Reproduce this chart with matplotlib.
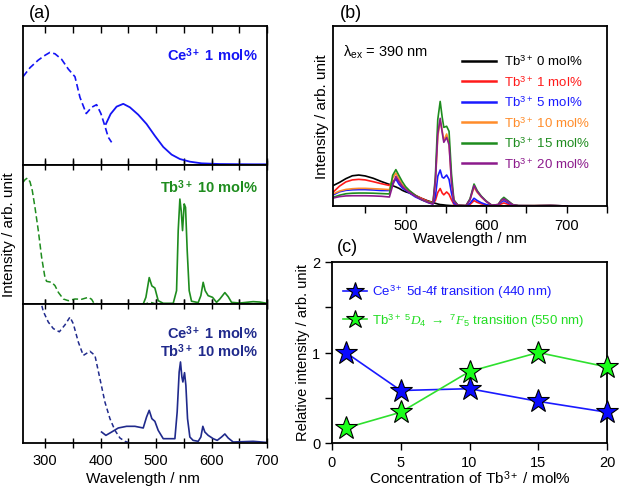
import matplotlib
matplotlib.use("Agg")
import matplotlib.pyplot as plt
from matplotlib.ticker import MultipleLocator

plt.rcParams['font.family'] = ['Liberation Sans', 'DejaVu Sans']
plt.rcParams['mathtext.fontset'] = 'custom'
plt.rcParams['mathtext.rm'] = 'Liberation Sans'
plt.rcParams['mathtext.sf'] = 'Liberation Sans'
plt.rcParams['mathtext.it'] = 'Liberation Serif:italic'
plt.rcParams['mathtext.bf'] = 'Liberation Sans:bold'

# ---------------- Panel (a) data ----------------
# top: Ce3+ 1 mol%
a1_exc_wl = [260, 272.6, 287.6, 300, 308.6, 317.7, 329.7, 341.7, 353.7, 362.7, 374, 383.7, 392.7, 400.5, 407.7, 413.7, 419.8]
a1_exc_I = [0.635, 0.70, 0.755, 0.79, 0.81, 0.80, 0.76, 0.69, 0.635, 0.487, 0.37, 0.415, 0.434, 0.37, 0.28, 0.20, 0.163]
a1_em_wl = [409.5, 418, 428.8, 440.8, 452.8, 467.8, 482.8, 497.8, 512.9, 527.9, 542.9, 560.9, 582, 615, 675, 700]
a1_em_I = [0.295, 0.367, 0.42, 0.44, 0.415, 0.362, 0.295, 0.21, 0.13, 0.075, 0.043, 0.024, 0.012, 0.007, 0.005, 0.005]

# middle: Tb3+ 10 mol%
a2_exc_wl = [260, 263.6, 267.8, 272.6, 276.8, 281.6, 287.6, 293.6, 299.6, 302.6, 311.7, 317.7, 323.7, 332.7, 341.7, 353.7, 365.7, 377.7, 383.7, 388, 398.7, 440, 480, 490, 500]
a2_exc_I = [0.875, 0.894, 0.906, 0.88, 0.815, 0.695, 0.528, 0.336, 0.19, 0.163, 0.156, 0.132, 0.084, 0.036, 0.024, 0.036, 0.034, 0.048, 0.034, 0.005, 0.0, 0.0, 0.0, 0.012, 0.0]
a2_em_wl = [476.8, 481.6, 487.6, 492.4, 497.8, 503.8, 512.9, 530.9, 536.9, 539.9, 542.9, 545.3, 547.7, 550.7, 553.1, 556.1, 559.7, 563.9, 575.9, 580.7, 584.9, 588.5, 593.9, 601.8, 609, 615, 624, 630, 636, 651, 675, 687, 700]
a2_em_I = [0.0, 0.048, 0.19, 0.13, 0.115, 0.024, 0.005, 0.005, 0.096, 0.53, 0.755, 0.67, 0.528, 0.72, 0.695, 0.384, 0.096, 0.02, 0.01, 0.06, 0.156, 0.096, 0.06, 0.048, 0.012, 0.036, 0.082, 0.053, 0.012, 0.007, 0.017, 0.014, 0.005]

# bottom: Ce3+ 1 mol%, Tb3+ 10 mol%
a3_exc_wl = [290.6, 296.6, 305.6, 314.7, 325.5, 335.7, 344.7, 350.7, 359.7, 368.7, 380.7, 389.7, 398.7, 407.7, 416.8, 425.8, 434.8, 443.8, 452.8]
a3_exc_I = [1.04, 0.947, 0.87, 0.823, 0.80, 0.85, 0.906, 0.858, 0.727, 0.63, 0.66, 0.63, 0.463, 0.295, 0.175, 0.091, 0.036, 0.012, 0.0]
a3_em_wl = [401.7, 409.5, 419.8, 431.8, 446.8, 461.8, 476.8, 482.8, 487.6, 492.4, 497.8, 503.8, 512.9, 533.9, 538, 541.6, 544, 546.5, 548.3, 551.3, 553.7, 556.7, 560.9, 566.7, 575.9, 580.7, 584.3, 587.9, 593.9, 603, 610.2, 618, 624, 630, 639, 675, 700]
a3_em_I = [0.079, 0.055, 0.079, 0.108, 0.12, 0.12, 0.108, 0.187, 0.235, 0.175, 0.156, 0.091, 0.031, 0.031, 0.223, 0.51, 0.583, 0.475, 0.439, 0.506, 0.415, 0.175, 0.043, 0.019, 0.012, 0.043, 0.12, 0.079, 0.055, 0.031, 0.019, 0.043, 0.065, 0.036, 0.007, 0.012, 0.004]

# ---------------- Panel (b) data ----------------
wl_b = [410, 418, 426, 434, 442, 450, 460, 470, 480, 484, 488, 492, 496, 500, 505, 512, 520, 528, 534, 537, 540, 543, 545.5, 547.5, 551, 554, 557, 560, 565, 575, 580, 585, 589, 594, 600, 607, 615, 619, 622, 627, 633, 640, 660, 680, 700]
tb0 = [.113, .131, .152, .168, .172, .167, .154, .136, .120, .113, .106, .098, .087, .079, .072, .058, .042, .028, .020, .015, .011, .008, .007, .006, .004, .003, .002, .002, .001, 0, 0, 0, 0, 0, 0, 0, 0, 0, 0, 0, 0, 0, 0, 0, 0]
tb1 = [.076, .110, .134, .145, .148, .145, .135, .124, .114, .135, .152, .138, .108, .095, .082, .060, .042, .026, .017, .030, .075, .097, .072, .062, .078, .065, .035, .010, .003, .001, .008, .030, .020, .012, .006, .002, .004, .012, .017, .010, .003, .001, .001, .002, 0]
tb5 = [.061, .079, .087, .090, .091, .091, .089, .086, .086, .125, .150, .120, .100, .088, .072, .051, .034, .019, .011, .050, .165, .200, .160, .155, .172, .148, .072, .015, .003, .002, .015, .043, .030, .018, .008, .002, .006, .022, .030, .018, .005, .002, .001, .003, 0]
tb10 = [.067, .083, .092, .096, .098, .098, .096, .094, .091, .155, .183, .150, .118, .100, .078, .058, .038, .022, .017, .120, .385, .474, .419, .363, .400, .350, .140, .028, .004, .002, .035, .104, .075, .050, .025, .004, .008, .030, .039, .025, .007, .002, .002, .003, 0]
tb15 = [.048, .060, .068, .071, .072, .072, .071, .069, .067, .170, .202, .168, .135, .108, .085, .060, .035, .022, .015, .160, .480, .581, .493, .437, .443, .415, .180, .035, .004, .002, .040, .122, .085, .055, .028, .004, .008, .036, .048, .030, .008, .002, .002, .003, 0]
tb20 = [.044, .052, .056, .057, .057, .057, .056, .054, .050, .113, .165, .135, .110, .092, .075, .055, .036, .020, .011, .140, .400, .487, .409, .354, .381, .340, .135, .028, .004, .002, .035, .113, .080, .052, .026, .004, .008, .032, .040, .026, .007, .002, .002, .003, 0]
b_labels = ["Tb$^{3+}$ 0 mol%", "Tb$^{3+}$ 1 mol%", "Tb$^{3+}$ 5 mol%", "Tb$^{3+}$ 10 mol%", "Tb$^{3+}$ 15 mol%", "Tb$^{3+}$ 20 mol%"]
b_colors = ['#000000', '#ff1a1a', '#1a1aff', '#ff8c2a', '#1e8c1e', '#8c1a8c']

# ---------------- Panel (c) data ----------------
conc = [1, 5, 10, 15, 20]
ce_rel = [1.0, 0.58, 0.60, 0.46, 0.34]
tb_rel = [0.165, 0.34, 0.79, 1.0, 0.84]

fig = plt.figure(figsize=(6.2, 4.89), dpi=100)
W, H = 620.0, 489.0

def fax(l, t, r, b):
    return fig.add_axes([l / W, 1 - b / H, (r - l) / W, (b - t) / H])

navy = '#202a8c'
bright_blue = '#1414f5'
green_a = '#1e8c1e'

ax1 = fax(23, 27, 267, 166)
ax2 = fax(23, 166, 267, 305)
ax3 = fax(23, 305, 267, 444)
for ax in (ax1, ax2, ax3):
    ax.set_xlim(260, 700)
    ax.set_ylim(0, 1)
    ax.set_yticks([])
    ax.xaxis.set_major_locator(MultipleLocator(100))
    ax.xaxis.set_minor_locator(MultipleLocator(50))
    for s in ax.spines.values():
        s.set_linewidth(1.3)
    ax.tick_params(axis='x', which='both', top=True, bottom=True, direction='inout',
                   length=7, width=1.0, labelsize=10.5)
ax1.tick_params(axis='x', which='both', direction='in', length=5)
ax1.tick_params(labelbottom=False)
ax2.tick_params(labelbottom=False)

ax1.plot(a1_exc_wl, a1_exc_I, color=bright_blue, lw=1.2, ls=(0, (4, 2)))
ax1.plot(a1_em_wl, a1_em_I, color=bright_blue, lw=1.3)
ax1.text(0.963, 0.80, r"Ce$^{\mathbf{3+}}$ 1 mol%", transform=ax1.transAxes, ha='right', va='center',
         color=bright_blue, fontsize=10.5, fontweight='bold')

ax2.plot(a2_exc_wl, a2_exc_I, color=green_a, lw=1.1, ls=(0, (4, 2)))
ax2.plot(a2_em_wl, a2_em_I, color=green_a, lw=1.2)
ax2.text(0.963, 0.85, r"Tb$^{\mathbf{3+}}$ 10 mol%", transform=ax2.transAxes, ha='right', va='center',
         color=green_a, fontsize=10.5, fontweight='bold')

ax3.plot(a3_exc_wl, a3_exc_I, color=navy, lw=1.1, ls=(0, (3, 2)))
ax3.plot(a3_em_wl, a3_em_I, color=navy, lw=1.2)
ax3.text(0.963, 0.80, r"Ce$^{\mathbf{3+}}$ 1 mol%", transform=ax3.transAxes, ha='right', va='center',
         color=navy, fontsize=10.5, fontweight='bold')
ax3.text(0.963, 0.67, r"Tb$^{\mathbf{3+}}$ 10 mol%", transform=ax3.transAxes, ha='right', va='center',
         color=navy, fontsize=10.5, fontweight='bold')

fig.text(143 / W, 1 - 479 / H, "Wavelength / nm", ha='center', va='center', fontsize=11)
fig.text(9 / W, 1 - 235 / H, "Intensity / arb. unit", ha='center', va='center', rotation=90, fontsize=11)
fig.text(40 / W, 1 - 13 / H, "(a)", ha='center', va='center', fontsize=13)

# ---------------- Panel (b) ----------------
axb = fax(333, 27, 607, 207)
axb.set_xlim(410, 750)
axb.set_ylim(0, 1)
axb.set_yticks([])
axb.xaxis.set_major_locator(MultipleLocator(100))
axb.xaxis.set_minor_locator(MultipleLocator(50))
axb.tick_params(axis='x', which='both', direction='out', length=5, width=1.0, labelsize=10.5)
for s in axb.spines.values():
    s.set_linewidth(1.3)
for y, lab, c in zip([tb0, tb1, tb5, tb10, tb15, tb20], b_labels, b_colors):
    axb.plot(wl_b, y, color=c, lw=1.2, label=lab)
leg = axb.legend(loc='upper left', bbox_to_anchor=(0.471, 0.845), frameon=False, fontsize=9.5,
                 borderpad=0, borderaxespad=0, handlelength=2.6, handletextpad=0.55, labelspacing=0.45)
for t, c in zip(leg.get_texts(), b_colors):
    t.set_color(c)
for l in leg.get_lines():
    l.set_linewidth(1.8)
axb.text(0.035, 0.86, "λ$_{\\mathrm{ex}}$ = 390 nm", transform=axb.transAxes, ha='left', va='center', fontsize=10.5)
fig.text(470 / W, 1 - 239 / H, "Wavelength / nm", ha='center', va='center', fontsize=11)
fig.text(322 / W, 1 - 117 / H, "Intensity / arb. unit", ha='center', va='center', rotation=90, fontsize=11)
fig.text(351 / W, 1 - 13 / H, "(b)", ha='center', va='center', fontsize=13)

# ---------------- Panel (c) ----------------
axc = fax(332, 263, 607, 444)
axc.set_xlim(0, 20)
axc.set_ylim(0, 2)
axc.set_xticks([0, 5, 10, 15, 20])
axc.yaxis.set_major_locator(MultipleLocator(1))
axc.yaxis.set_minor_locator(MultipleLocator(0.5))
axc.tick_params(axis='both', which='both', direction='out', length=5, width=1.0, labelsize=10.5)
for s in axc.spines.values():
    s.set_linewidth(1.3)
axc.plot(conc, ce_rel, color='#1a1aff', lw=1.2, marker='*', ms=17, mfc='#0a0aff', mec='black', mew=0.8,
         label="Ce$^{3+}$ 5d-4f transition (440 nm)", clip_on=False, zorder=3)
axc.plot(conc, tb_rel, color='#2ee02e', lw=1.2, marker='*', ms=17, mfc='#1aff1a', mec='black', mew=0.8,
         label="Tb$^{3+}$ $^{5}D_{4}$ $\\rightarrow$ $^{7}F_{5}$ transition (550 nm)", clip_on=False, zorder=3)
legc = axc.legend(loc='upper left', bbox_to_anchor=(0.04, 0.885), frameon=False, fontsize=9.5,
                  borderpad=0, borderaxespad=0, handlelength=1.8, handletextpad=0.4, labelspacing=0.85,
                  markerscale=0.8)
for t, c in zip(legc.get_texts(), ['#1a1aff', '#22dd22']):
    t.set_color(c)
fig.text(470 / W, 1 - 478 / H, "Concentration of Tb$^{3+}$ / mol%", ha='center', va='center', fontsize=11)
fig.text(303 / W, 1 - 353 / H, "Relative intensity / arb. unit", ha='center', va='center', rotation=90, fontsize=10.5)
fig.text(347 / W, 1 - 247 / H, "(c)", ha='center', va='center', fontsize=13)

fig.savefig("out.png", dpi=100)
